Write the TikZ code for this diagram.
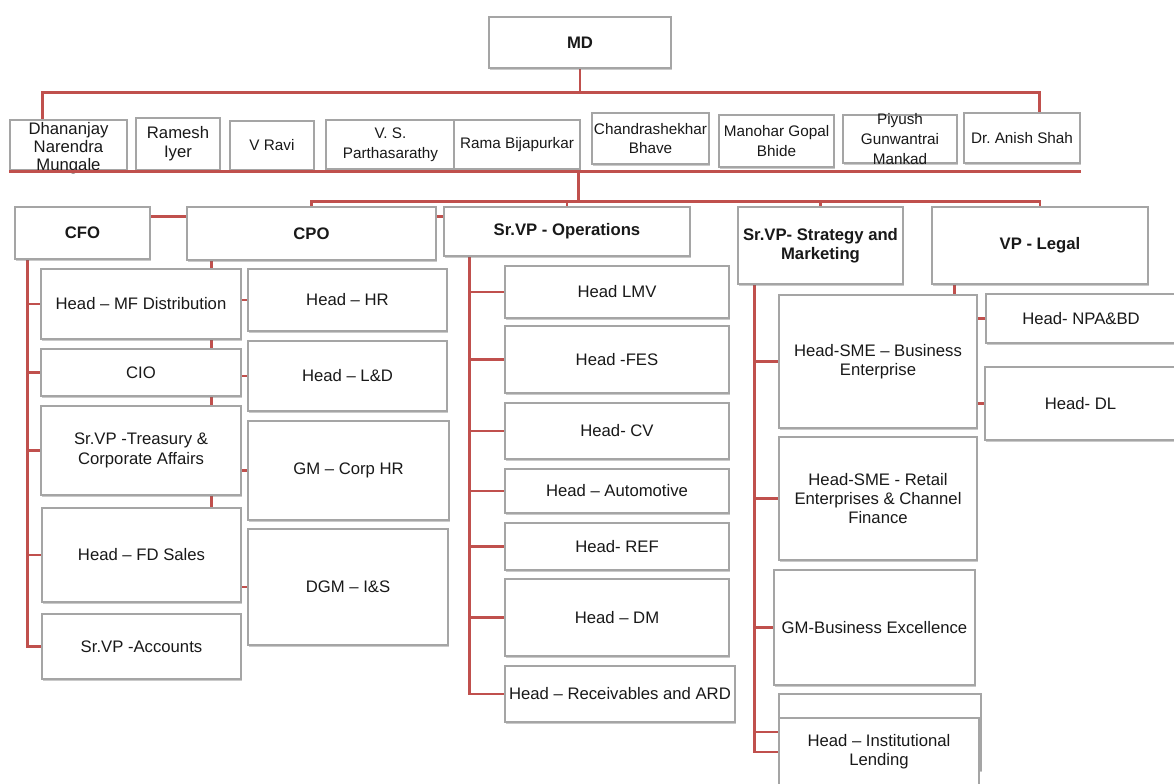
\documentclass[tikz,border=0pt]{standalone}
\usepackage{fontspec}
\setmainfont{Liberation Sans}
\usepackage{tikz}
\usetikzlibrary{calc, shadows, backgrounds}

\definecolor{linkred}{RGB}{192,80,77}
\definecolor{boxgray}{RGB}{165,165,165}

\tikzset{
  orgbox/.style={draw=boxgray, line width=0.6pt, fill=white, inner sep=0pt, align=center,
    drop shadow={shadow xshift=0.7pt, shadow yshift=-0.9pt, opacity=0.35, fill=black!60},
    font=\fontsize{9.5}{11}\selectfont, text=black!90},
  headbox/.style={orgbox, font=\bfseries\fontsize{9.5}{11}\selectfont},
  namebox/.style={orgbox, font=\fontsize{8.7}{11.3}\selectfont},
  bigtxt/.style={font=\fontsize{9.5}{10.3}\selectfont, align=center, text=black!90, inner sep=0pt},
  smalltxt/.style={font=\fontsize{8.7}{11.3}\selectfont, align=center, text=black!90, inner sep=0pt},
  % corners of a box, in pixels of the page: left, top, right, bottom
  span/.style n args={4}{at={(#1/2+#3/2,#2/2+#4/2)},
    minimum width=(#3-#1)*0.02cm, minimum height=(#4-#2)*0.02cm},
  link/.style={draw=linkred, line width=1.5pt},
}

\begin{document}
\begin{tikzpicture}[x=0.02cm, y=-0.02cm]
    \useasboundingbox (0,0) rectangle (1174,784);
    \clip (0,0) rectangle (1174,784);

    % --- MD ---
    \node[headbox, span={489}{17}{671}{68}] (md) {MD};

    % --- Board ---
    \node[orgbox, span={10}{120}{127}{170}, label={[bigtxt, yshift=-2pt]center:{Dhananjay\\Narendra\\Mungale}}] (dhan) {};
    \node[orgbox, span={136}{118}{220}{170}] (ramesh) {Ramesh\\Iyer};
    \node[namebox, span={230}{121}{314}{170}] (ravi) {V Ravi};
    \node[namebox, span={326}{120}{455}{169}] (vsp) {V. S.\\Parthasarathy};
    \node[namebox, span={454}{120}{580}{169}] (rama) {Rama Bijapurkar};
    \node[namebox, span={592}{113}{709}{164}] (chandra) {Chandrashekhar\\Bhave};
    \node[namebox, span={719}{115}{834}{167}] (manohar) {Manohar Gopal\\Bhide};
    \node[namebox, span={843}{115}{957}{163}, label={[smalltxt]center:{Piyush\\Gunwantrai\\Mankad}}] (piyush) {};
    \node[namebox, span={964}{113}{1080}{163}] (anish) {Dr.\ Anish Shah};

    % --- Heads row ---
    \node[headbox, span={15}{207}{150}{259}] (cfo) {CFO};
    \node[headbox, span={187}{207}{436}{260}] (cpo) {CPO};
    \node[headbox, span={444}{207}{690}{256}] (ops) {Sr.VP - Operations};
    \node[headbox, span={738}{207}{903}{284}] (strat) {Sr.VP- Strategy and\\Marketing};
    \node[headbox, span={932}{207}{1148}{284}] (legal) {VP - Legal};

    % under CFO
    \node[orgbox, span={41}{269}{241}{339}] (mf) {Head -- MF Distribution};
    \node[orgbox, span={41}{349}{241}{396}] (cio) {CIO};
    \node[orgbox, span={41}{406}{241}{495}] (tre) {Sr.VP -Treasury \&\\Corporate Affairs};
    \node[orgbox, span={42}{508}{241}{602}] (fd) {Head -- FD Sales};
    \node[orgbox, span={42}{614}{241}{679}] (acc) {Sr.VP -Accounts};

    % under CPO
    \node[orgbox, span={248}{269}{447}{331}] (hr) {Head -- HR};
    \node[orgbox, span={248}{341}{447}{411}] (ld) {Head -- L\&D};
    \node[orgbox, span={248}{421}{449}{520}] (corphr) {GM -- Corp HR};
    \node[orgbox, span={248}{529}{448}{645}] (dgm) {DGM -- I\&S};

    % under Sr.VP - Operations
    \node[orgbox, span={505}{266}{729}{318}] (lmv) {Head LMV};
    \node[orgbox, span={505}{326}{729}{393}] (fes) {Head -FES};
    \node[orgbox, span={505}{403}{729}{459}] (cv) {Head- CV};
    \node[orgbox, span={505}{469}{729}{513}] (auto) {Head -- Automotive};
    \node[orgbox, span={505}{523}{729}{570}] (ref) {Head- REF};
    \node[orgbox, span={505}{579}{729}{656}] (dm) {Head -- DM};
    \node[orgbox, span={505}{666}{735}{722}] (recv) {Head -- Receivables and ARD};

    % under Sr.VP - Strategy and Marketing
    \node[orgbox, span={779}{295}{977}{428}] (sme) {Head-SME -- Business\\Enterprise};
    \node[orgbox, span={779}{437}{977}{560}] (retail) {Head-SME - Retail\\Enterprises \& Channel\\Finance};
    \node[orgbox, span={774}{570}{975}{685}] (gmbe) {GM-Business Excellence};
    \node[orgbox, span={779}{694}{981}{770}] (blank) {};
    \node[orgbox, span={779}{718}{979}{786}] (inst) {Head -- Institutional\\Lending};

    % under VP - Legal
    \node[orgbox, span={986}{294}{1176}{343}] (npa) {Head- NPA\&BD};
    \node[orgbox, span={985}{367}{1176}{440}] (dl) {Head- DL};

    % --- Red connectors ---
    \begin{scope}[on background layer]
        \draw[link] (md.south) -- ++(0,24) coordinate (mdbus);
        \draw[link] ($(dhan.north west)+(33,0)$) |- (mdbus) -| ($(anish.north west)+(76,0)$);

        \draw[link] ($(rama.south east)+(-2,0)$) -- ++(0,32) coordinate (headbus);
        \draw[link] (cpo.north) |- (headbus) -| (legal.north);
        \draw[link] (ops.north) -- (ops.north |- headbus);
        \draw[link] (strat.north) -- (strat.north |- headbus);
        \draw[link] ($(cfo.north east)+(0,10)$) -- ($(cpo.north west)+(0,10)$);
        \draw[link] ($(cpo.north east)+(0,10)$) -- ($(ops.north west)+(0,10)$);

        \foreach \k in {mf,cio,tre,fd,acc}
            \draw[link] ($(cfo.south west)+(13,0)$) |- (\k.west);
        \foreach \k in {hr,ld,corphr,dgm}
            \draw[link] ($(cpo.south west)+(25,0)$) |- (\k.west);
        \foreach \k in {lmv,fes,cv,auto,ref,dm,recv}
            \draw[link] ($(ops.south west)+(26,0)$) |- (\k.west);
        \foreach \k in {sme,retail,gmbe,blank,inst}
            \draw[link] ($(strat.south west)+(17,0)$) |- (\k.west);
        \foreach \k in {npa,dl}
            \draw[link] ($(legal.south west)+(23,0)$) |- (\k.west);
    \end{scope}

    % line along the foot of the board
    \draw[link] (dhan.south west) ++(0,1) coordinate (boardfoot) -- (boardfoot -| anish.east);
\end{tikzpicture}
\end{document}
